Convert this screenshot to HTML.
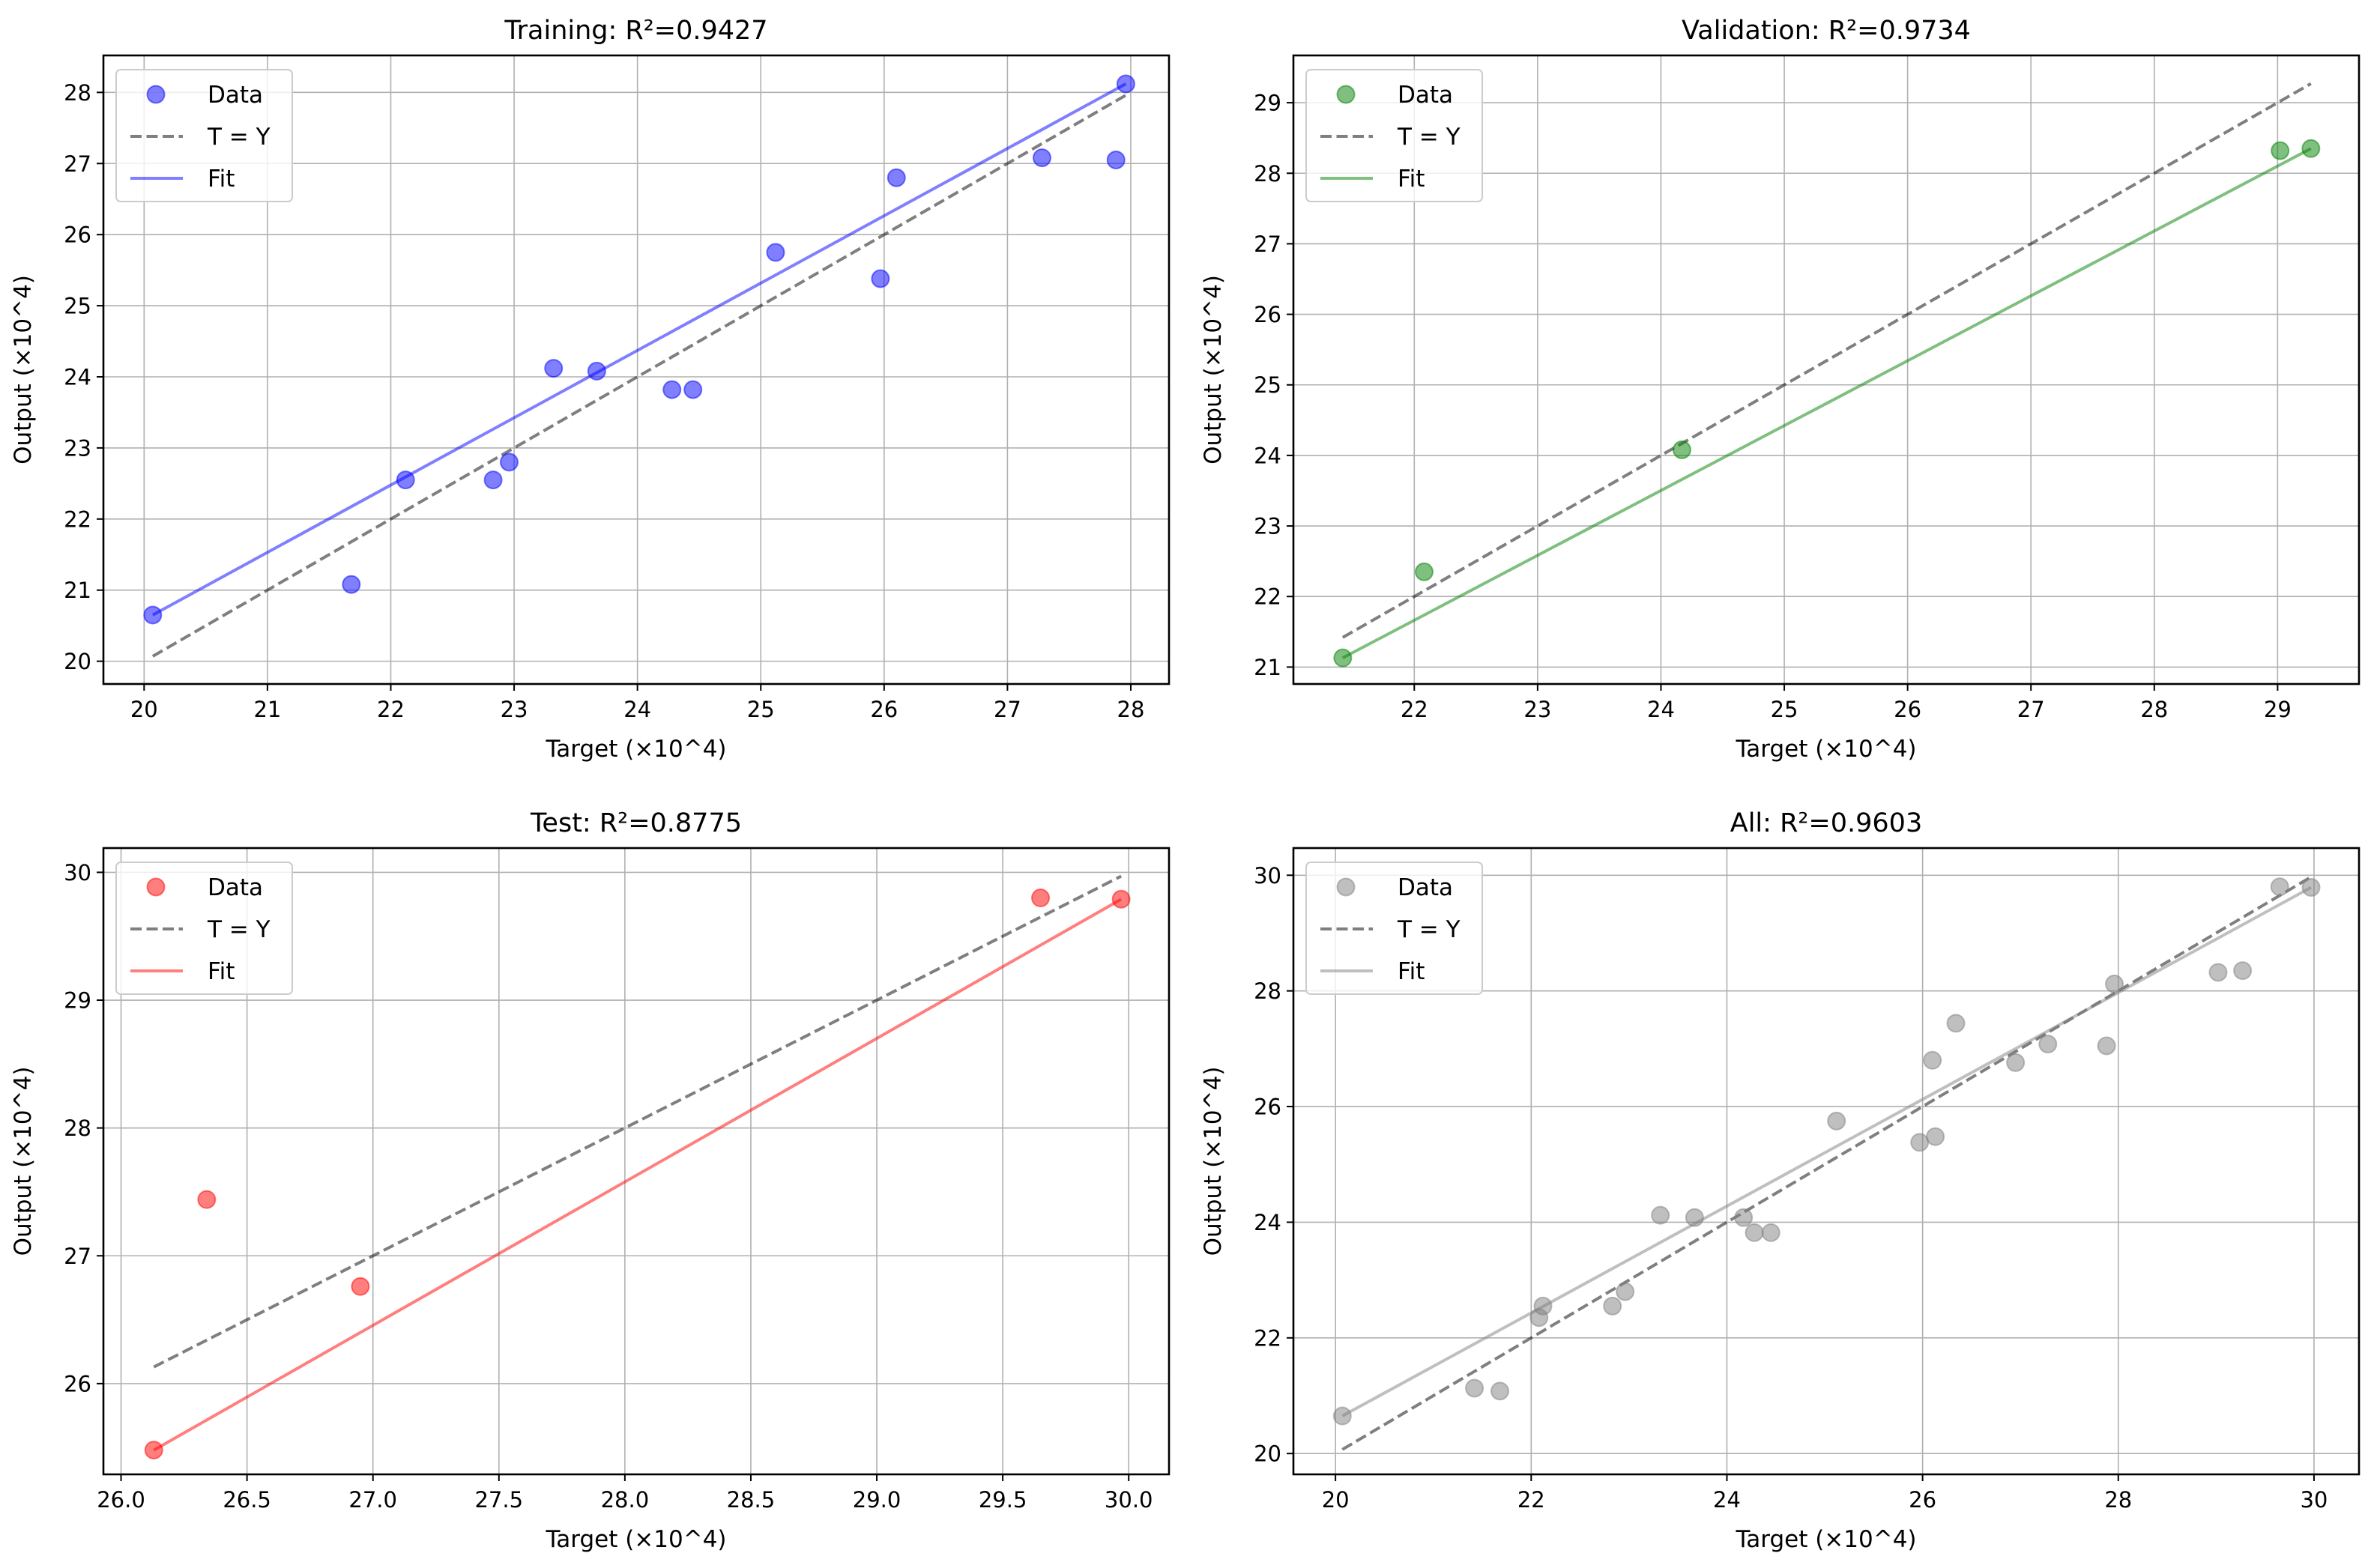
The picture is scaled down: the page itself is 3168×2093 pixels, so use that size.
<!DOCTYPE html>
<html><head><meta charset="utf-8"><style>
html,body{margin:0;padding:0;background:#fff}
svg{display:block;font-family:"DejaVu Sans","Liberation Sans",sans-serif}
</style></head><body>
<svg id="fig" width="3168" height="2093" viewBox="0 0 3168 2093" xmlns="http://www.w3.org/2000/svg"></svg>
<script>
const trainX=[20.07,21.68,22.12,22.83,22.96,23.32,23.67,24.28,24.45,25.12,25.97,26.10,27.28,27.88,27.96];
const trainY=[20.65,21.08,22.55,22.55,22.80,24.12,24.08,23.82,23.82,25.75,25.38,26.80,27.08,27.05,28.12];
const valX=[21.42,22.08,24.17,29.02,29.27];
const valY=[21.13,22.35,24.08,28.32,28.35];
const testX=[26.13,26.34,26.95,29.65,29.97];
const testY=[25.48,27.44,26.76,29.80,29.79];
const allX=trainX.concat(valX,testX);
const allY=trainY.concat(valY,testY);
const fitSlopes=[0.9468,0.9197,1.1224,0.9232];
const fitIntercepts=[1.648,1.430,-3.849,2.121];
const trainXTicks=[20,21,22,23,24,25,26,27,28];
const trainYTicks=[20,21,22,23,24,25,26,27,28];
const valXTicks=[22,23,24,25,26,27,28,29];
const valYTicks=[21,22,23,24,25,26,27,28,29];
const testXTicks=[26.0,26.5,27.0,27.5,28.0,28.5,29.0,29.5,30.0];
const testYTicks=[26,27,28,29,30];
const allXTicks=[20,22,24,26,28,30];
const allYTicks=[20,22,24,26,28,30];
const titles=["Training: R\u00b2=0.9427","Validation: R\u00b2=0.9734","Test: R\u00b2=0.8775","All: R\u00b2=0.9603"];

const NS="http://www.w3.org/2000/svg";
const svg=document.getElementById('fig');
function mk(tag,attrs,parent){const e=document.createElementNS(NS,tag);for(const k in attrs)e.setAttribute(k,attrs[k]);(parent||svg).appendChild(e);return e;}

const panels=[
 {key:'training',xs:trainX,ys:trainY,xt:trainXTicks,yt:trainYTicks,dec:0,box:[138,74,1560,913],xd:[19.67,28.31],yd:[19.68,28.52],color:'#0000ff',title:titles[0],ylx:30,fi:0},
 {key:'validation',xs:valX,ys:valY,xt:valXTicks,yt:valYTicks,dec:0,box:[1726,74,3148,913],xd:[21.02,29.66],yd:[20.76,29.67],color:'#008000',title:titles[1],ylx:1618,fi:1},
 {key:'test',xs:testX,ys:testY,xt:testXTicks,yt:testYTicks,dec:1,box:[138,1132,1560,1968],xd:[25.93,30.16],yd:[25.29,30.19],color:'#ff0000',title:titles[2],ylx:30,fi:2},
 {key:'all',xs:allX,ys:allY,xt:allXTicks,yt:allYTicks,dec:0,box:[1726,1132,3148,1968],xd:[19.57,30.46],yd:[19.64,30.47],color:'#808080',title:titles[3],ylx:1618,fi:3}
];

panels.forEach(p=>{
 const [L,T,R,B]=p.box;
 const sx=v=>L+(v-p.xd[0])/(p.xd[1]-p.xd[0])*(R-L);
 const sy=v=>B-(v-p.yd[0])/(p.yd[1]-p.yd[0])*(B-T);
 const g=mk('g',{});
 
 
 p.xt.forEach(t=>{const l=mk('line',{x1:sx(t),x2:sx(t),y1:T,y2:B,stroke:'#b0b0b0','stroke-width':1.6},g);
  });
 p.yt.forEach(t=>{const l=mk('line',{x1:L,x2:R,y1:sy(t),y2:sy(t),stroke:'#b0b0b0','stroke-width':1.6},g);
  });
 const a=fitSlopes[p.fi],b=fitIntercepts[p.fi];
 const x0=Math.min(...p.xs),x1=Math.max(...p.xs);
 const tl=mk('line',{x1:sx(x0),y1:sy(x0),x2:sx(x1),y2:sy(x1),stroke:'#000','stroke-opacity':0.5,'stroke-width':4,'stroke-dasharray':'15,6.5'},g);
 
 const fl=mk('line',{x1:sx(x0),y1:sy(a*x0+b),x2:sx(x1),y2:sy(a*x1+b),stroke:p.color,'stroke-opacity':0.5,'stroke-width':4},g);
 
 p.xs.forEach((v,i)=>{const c=mk('circle',{cx:sx(v),cy:sy(p.ys[i]),r:11.5,fill:p.color,'fill-opacity':0.5,stroke:p.color,'stroke-opacity':0.5,'stroke-width':2},g);
  });
 const fr=mk('rect',{x:L,y:T,width:R-L,height:B-T,fill:'none',stroke:'#000','stroke-width':2.6},g);
 
 p.xt.forEach(t=>{mk('line',{x1:sx(t),x2:sx(t),y1:B,y2:B+9,stroke:'#000','stroke-width':2},g);
  const tx=mk('text',{x:sx(t),y:B+44,'text-anchor':'middle','font-size':29},g);tx.textContent=t.toFixed(p.dec);
  });
 p.yt.forEach(t=>{mk('line',{x1:L-9,x2:L,y1:sy(t),y2:sy(t),stroke:'#000','stroke-width':2},g);
  const tx=mk('text',{x:L-16,y:sy(t)+10.5,'text-anchor':'end','font-size':29},g);tx.textContent=String(t);
  });
 const ti=mk('text',{x:(L+R)/2,y:T-22,'text-anchor':'middle','font-size':35},g);ti.textContent=p.title;
 
 const xl=mk('text',{x:(L+R)/2,y:B+97,'text-anchor':'middle','font-size':31},g);xl.textContent='Target (\u00d710^4)';
 
 const cy=(T+B)/2;
 const yl=mk('text',{x:p.ylx+11,y:cy,'text-anchor':'middle','font-size':31,transform:'rotate(-90 '+(p.ylx+11)+' '+cy+')'},g);yl.textContent='Output (\u00d710^4)';
 
 const lg=mk('g',{},g);
 
 mk('rect',{x:L+17,y:T+19,width:235,height:176,rx:6,fill:'#fff','fill-opacity':0.8,stroke:'#cccccc','stroke-width':2},lg);
 const rows=[T+57,T+113,T+169];
 const m=mk('circle',{cx:L+70,cy:rows[0]-5,r:11.5,fill:p.color,'fill-opacity':0.5,stroke:p.color,'stroke-opacity':0.5,'stroke-width':2},lg);
 
 mk('line',{x1:L+36,x2:L+106,y1:rows[1]-5,y2:rows[1]-5,stroke:'#000','stroke-opacity':0.5,'stroke-width':4,'stroke-dasharray':'15,6.5'},lg);
 mk('line',{x1:L+36,x2:L+106,y1:rows[2]-5,y2:rows[2]-5,stroke:p.color,'stroke-opacity':0.5,'stroke-width':4},lg);
 ['Data','T = Y','Fit'].forEach((s,i)=>{const t=mk('text',{x:L+139,y:rows[i]+6,'font-size':31},lg);t.textContent=s;
  });
});
</script>
</body></html>
